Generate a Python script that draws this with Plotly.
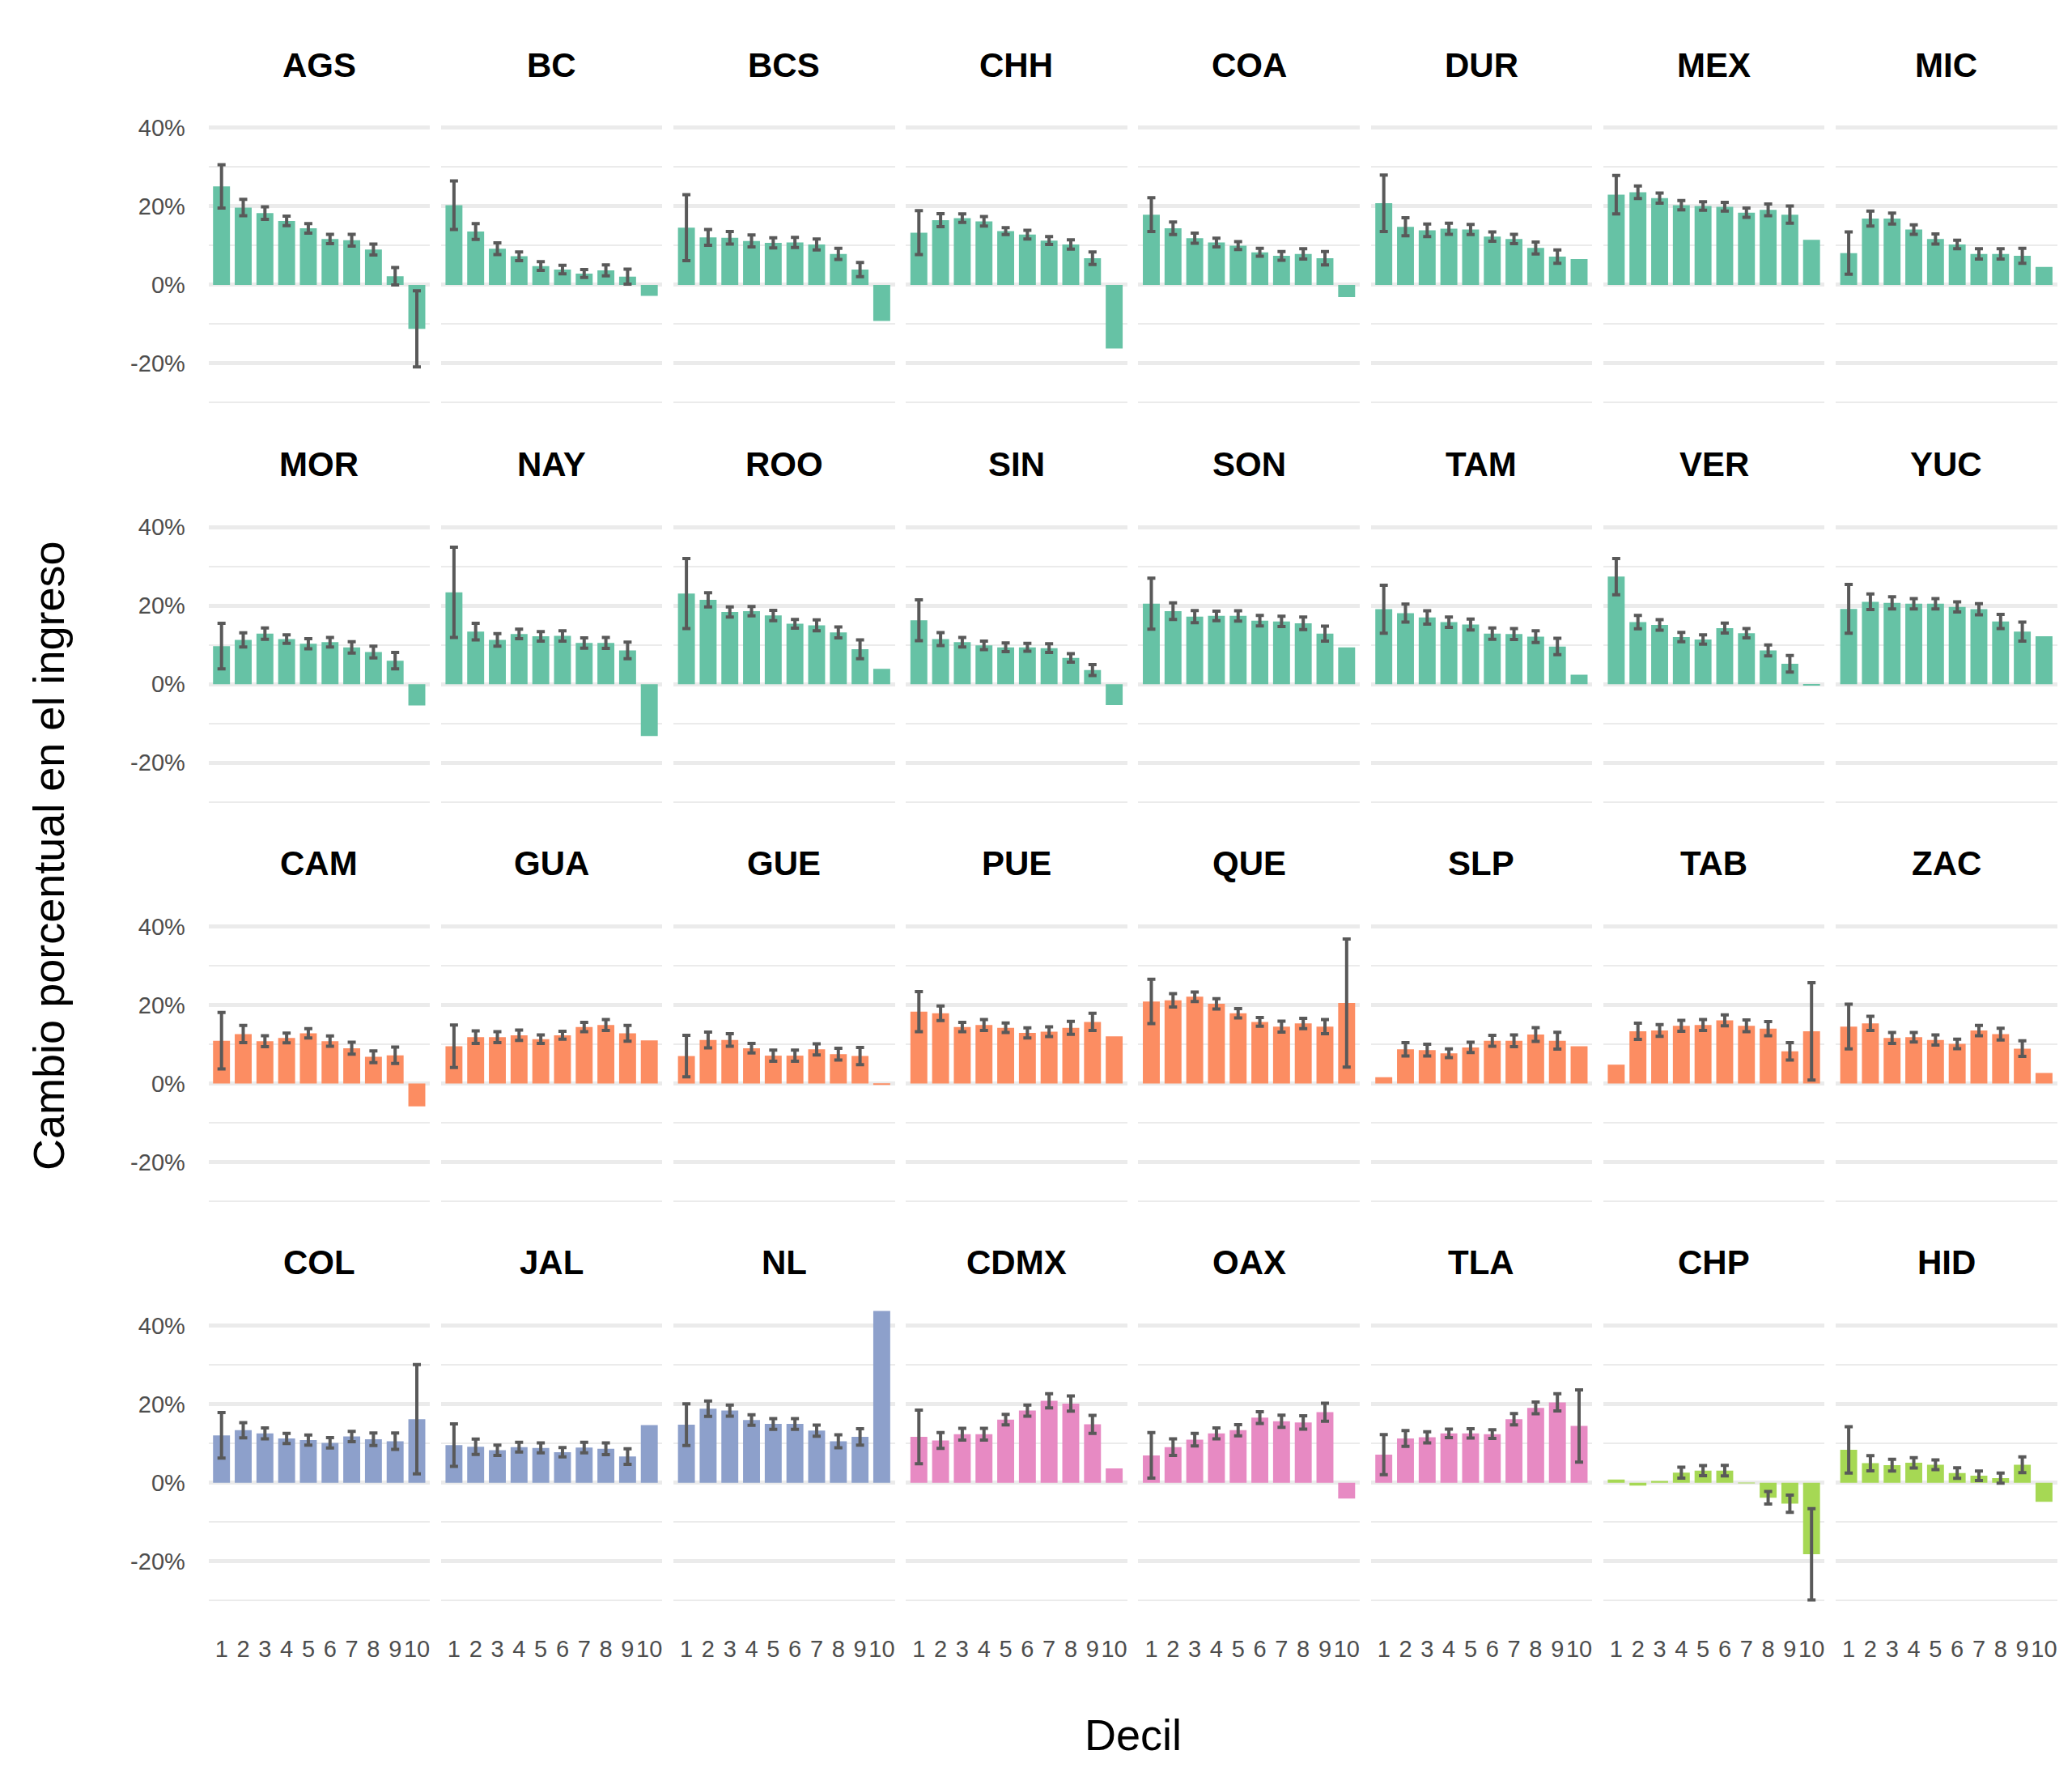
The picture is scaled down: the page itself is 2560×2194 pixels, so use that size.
import plotly.graph_objects as go

# ---------------- data ----------------
deciles = [1, 2, 3, 4, 5, 6, 7, 8, 9, 10]
decile_labels = ["1", "2", "3", "4", "5", "6", "7", "8", "9", "10"]

y_tickvals = [-20, 0, 20, 40]
y_ticktext = ["-20%", "0%", "20%", "40%"]
y_minor = [-30, -10, 10, 30]

ags = [25.1, 19.7, 18.3, 16.3, 14.4, 11.7, 11.4, 9.0, 2.2, -11.2]
ags_err = [5.5, 2.1, 1.6, 1.2, 1.2, 1.2, 1.5, 1.4, 2.2, 9.7]
bc = [20.3, 13.6, 9.2, 7.3, 4.8, 3.9, 2.9, 3.7, 2.1, -2.8]
bc_err = [6.2, 2.0, 1.5, 1.1, 1.1, 1.1, 1.0, 1.4, 1.9, None]
bcs = [14.6, 12.1, 12.0, 11.2, 10.7, 10.8, 10.3, 7.9, 3.9, -9.2]
bcs_err = [8.4, 2.0, 1.6, 1.5, 1.3, 1.3, 1.4, 1.4, 1.8, None]
chh = [13.3, 16.5, 17.0, 16.2, 13.7, 12.8, 11.3, 10.3, 6.8, -16.2]
chh_err = [5.6, 1.65, 1.1, 1.2, 0.9, 1.1, 1.0, 1.2, 1.6, None]
coa = [17.9, 14.4, 11.9, 10.8, 10.0, 8.3, 7.4, 7.9, 6.8, -3.1]
coa_err = [4.3, 1.6, 1.3, 1.1, 1.0, 1.0, 1.1, 1.3, 1.7, None]
dur = [20.8, 14.8, 13.9, 14.3, 14.1, 12.3, 11.7, 9.4, 7.2, 6.6]
dur_err = [7.2, 2.3, 1.6, 1.4, 1.3, 1.2, 1.2, 1.5, 1.7, None]
mex = [23.0, 23.6, 22.1, 20.3, 20.1, 19.9, 18.4, 19.1, 17.9, 11.5]
mex_err = [4.9, 1.6, 1.3, 1.2, 1.1, 1.1, 1.2, 1.5, 2.2, None]
mic = [8.1, 16.9, 16.9, 14.1, 11.7, 10.3, 7.9, 7.9, 7.4, 4.6]
mic_err = [5.4, 1.9, 1.4, 1.2, 1.3, 1.1, 1.3, 1.3, 1.9, None]

mor = [9.7, 11.3, 12.9, 11.5, 10.3, 10.7, 9.4, 8.2, 6.0, -5.4]
mor_err = [5.8, 1.8, 1.45, 1.1, 1.3, 1.2, 1.45, 1.5, 2.1, None]
nay = [23.4, 13.4, 11.3, 12.8, 12.2, 12.3, 10.5, 10.5, 8.6, -13.2]
nay_err = [11.5, 2.1, 1.6, 1.2, 1.2, 1.3, 1.3, 1.4, 2.1, None]
roo = [23.1, 21.5, 18.4, 18.6, 17.5, 15.4, 15.0, 13.2, 8.9, 3.9]
roo_err = [8.9, 1.8, 1.3, 1.2, 1.3, 1.1, 1.4, 1.4, 2.4, None]
sin = [16.3, 11.5, 10.7, 9.9, 9.4, 9.4, 9.2, 6.7, 3.6, -5.3]
sin_err = [5.2, 1.65, 1.2, 1.1, 1.1, 1.0, 1.1, 1.1, 1.4, None]
son = [20.5, 18.6, 17.2, 17.4, 17.4, 16.2, 16.0, 15.5, 12.9, 9.4]
son_err = [6.5, 2.1, 1.55, 1.2, 1.3, 1.35, 1.3, 1.6, 1.9, None]
tam = [19.1, 18.1, 17.0, 15.8, 15.2, 12.9, 12.8, 12.1, 9.6, 2.4]
tam_err = [6.1, 2.3, 1.7, 1.3, 1.4, 1.45, 1.4, 1.5, 2.1, None]
ver = [27.4, 15.8, 15.1, 12.0, 11.4, 14.3, 13.0, 8.6, 5.2, -0.2]
ver_err = [4.6, 1.7, 1.35, 1.2, 1.2, 1.25, 1.2, 1.4, 2.1, None]
yuc = [19.2, 21.0, 20.7, 20.5, 20.5, 19.7, 19.1, 16.0, 13.4, 12.2]
yuc_err = [6.2, 2.0, 1.55, 1.3, 1.3, 1.3, 1.4, 1.8, 2.4, None]

cam = [10.9, 12.6, 10.8, 11.6, 12.8, 10.8, 9.0, 6.8, 7.2, -5.8]
cam_err = [7.2, 2.2, 1.4, 1.25, 1.2, 1.3, 1.5, 1.5, 2.1, None]
gua = [9.5, 11.8, 11.8, 12.3, 11.3, 12.3, 14.4, 14.9, 12.8, 11.0]
gua_err = [5.4, 1.6, 1.4, 1.3, 1.1, 1.0, 1.2, 1.4, 2.0, None]
gue = [7.0, 11.1, 11.1, 9.0, 7.1, 7.1, 8.7, 7.5, 7.0, -0.3]
gue_err = [5.3, 2.0, 1.6, 1.2, 1.4, 1.4, 1.4, 1.5, 2.2, None]
pue = [18.3, 17.9, 14.4, 14.9, 14.2, 12.9, 13.2, 14.2, 15.7, 12.0]
pue_err = [5.1, 1.85, 1.2, 1.4, 1.2, 1.3, 1.25, 1.65, 2.2, None]
que = [20.9, 21.2, 22.1, 20.3, 17.9, 15.7, 14.5, 15.3, 14.5, 20.5]
que_err = [5.65, 1.7, 1.2, 1.3, 1.2, 1.1, 1.4, 1.3, 1.8, 16.3]
slp = [1.6, 8.7, 8.5, 7.7, 9.2, 10.9, 10.9, 12.5, 10.9, 9.5]
slp_err = [None, 1.7, 1.5, 1.1, 1.3, 1.4, 1.5, 1.75, 2.15, None]
tab = [4.8, 13.3, 13.5, 14.7, 14.9, 16.1, 14.7, 14.0, 8.2, 13.3]
tab_err = [None, 2.05, 1.5, 1.4, 1.4, 1.4, 1.5, 1.8, 2.2, 12.4]
zac = [14.5, 15.3, 11.6, 11.8, 11.1, 10.1, 13.5, 12.6, 8.9, 2.7]
zac_err = [5.7, 1.8, 1.4, 1.2, 1.3, 1.2, 1.3, 1.5, 2.0, None]

col = [12.1, 13.4, 12.6, 11.3, 10.9, 10.2, 11.8, 11.1, 10.6, 16.2]
col_err = [5.8, 1.95, 1.4, 1.3, 1.3, 1.3, 1.3, 1.6, 2.1, 13.9]
jal = [9.6, 9.2, 8.3, 9.1, 8.9, 7.8, 9.0, 8.7, 6.7, 14.7]
jal_err = [5.4, 1.95, 1.3, 1.25, 1.25, 1.2, 1.35, 1.5, 2.0, None]
nl = [14.8, 18.9, 18.4, 16.0, 15.0, 15.0, 13.3, 10.6, 11.7, 43.8]
nl_err = [5.3, 1.95, 1.4, 1.35, 1.35, 1.35, 1.4, 1.65, 2.1, None]
cdmx = [11.7, 10.8, 12.4, 12.4, 16.1, 18.4, 20.9, 20.2, 14.9, 3.7]
cdmx_err = [6.85, 2.0, 1.5, 1.5, 1.35, 1.4, 1.8, 1.95, 2.3, None]
oax = [7.0, 9.1, 11.0, 12.6, 13.4, 16.6, 15.7, 15.4, 18.0, -4.0]
oax_err = [5.8, 2.1, 1.6, 1.4, 1.4, 1.5, 1.55, 1.7, 2.3, None]
tla = [7.2, 11.3, 11.6, 12.6, 12.6, 12.4, 16.2, 19.1, 20.5, 14.5]
tla_err = [5.1, 2.0, 1.4, 1.1, 1.2, 1.1, 1.45, 1.5, 2.2, 9.2]
chp = [0.85, -0.7, 0.5, 2.6, 3.1, 3.1, -0.1, -3.8, -5.3, -18.2]
chp_err = [None, None, None, 1.4, 1.3, 1.35, None, 1.6, 2.2, 11.6]
hid = [8.4, 5.0, 4.5, 5.1, 4.6, 2.5, 1.8, 1.2, 4.6, -4.8]
hid_err = [5.9, 1.95, 1.5, 1.3, 1.25, 1.35, 1.2, 1.3, 2.0, None]

# group colours (Set2)
GREEN = "#66C2A5"
ORANGE = "#FC8D62"
BLUE = "#8DA0CB"
PINK = "#E78AC3"
LIME = "#A6D854"

panels = [
    ("AGS", ags, ags_err, GREEN), ("BC", bc, bc_err, GREEN),
    ("BCS", bcs, bcs_err, GREEN), ("CHH", chh, chh_err, GREEN),
    ("COA", coa, coa_err, GREEN), ("DUR", dur, dur_err, GREEN),
    ("MEX", mex, mex_err, GREEN), ("MIC", mic, mic_err, GREEN),
    ("MOR", mor, mor_err, GREEN), ("NAY", nay, nay_err, GREEN),
    ("ROO", roo, roo_err, GREEN), ("SIN", sin, sin_err, GREEN),
    ("SON", son, son_err, GREEN), ("TAM", tam, tam_err, GREEN),
    ("VER", ver, ver_err, GREEN), ("YUC", yuc, yuc_err, GREEN),
    ("CAM", cam, cam_err, ORANGE), ("GUA", gua, gua_err, ORANGE),
    ("GUE", gue, gue_err, ORANGE), ("PUE", pue, pue_err, ORANGE),
    ("QUE", que, que_err, ORANGE), ("SLP", slp, slp_err, ORANGE),
    ("TAB", tab, tab_err, ORANGE), ("ZAC", zac, zac_err, ORANGE),
    ("COL", col, col_err, BLUE), ("JAL", jal, jal_err, BLUE),
    ("NL", nl, nl_err, BLUE), ("CDMX", cdmx, cdmx_err, PINK),
    ("OAX", oax, oax_err, PINK), ("TLA", tla, tla_err, PINK),
    ("CHP", chp, chp_err, LIME), ("HID", hid, hid_err, LIME),
]

# ---------------- layout geometry (pixels) ----------------
W, H = 2560, 2194
NCOL = 8
PANEL_L0 = 249.6
PANEL_STEP = 287.2
PANEL_W = 273.5
ROW_TOP0 = 112.6
ROW_STEP = 493.3
PANEL_H = 394.8
STRIP_OFFSET = 40.6
Y_RANGE = [-33.7, 47.7]
X_RANGE = [0.4, 10.6]

FONT = "Liberation Sans, Arial, sans-serif"
TICK_COLOR = "#4D4D4D"
GRID = "#EBEBEB"
ERR_COLOR = "#595959"

fig = go.Figure()
annotations = []
nrows = (len(panels) + NCOL - 1) // NCOL

for i, (name, vals, errs, color) in enumerate(panels):
    r, c = divmod(i, NCOL)
    sfx = "" if i == 0 else str(i + 1)
    left = PANEL_L0 + c * PANEL_STEP
    top = ROW_TOP0 + r * ROW_STEP
    xd = [left / W, (left + PANEL_W) / W]
    yd = [1 - (top + PANEL_H) / H, 1 - top / H]

    fig.add_trace(go.Bar(
        x=deciles, y=vals, width=0.78,
        marker=dict(color=color, line=dict(width=0)),
        xaxis="x" + sfx, yaxis="y" + sfx, showlegend=False,
        hovertemplate=name + " decil %{x}: %{y:.1f}%<extra></extra>",
    ))

    # error bars only where an interval exists
    ex = [d for d, e in zip(deciles, errs) if e is not None]
    ey = [v for v, e in zip(vals, errs) if e is not None]
    ee = [e for e in errs if e is not None]
    fig.add_trace(go.Scatter(
        x=ex, y=ey, mode="markers",
        marker=dict(size=1, opacity=0),
        error_y=dict(type="data", array=ee, visible=True,
                     color=ERR_COLOR, thickness=4, width=5),
        xaxis="x" + sfx, yaxis="y" + sfx, showlegend=False,
        hoverinfo="skip",
    ))

    fig.layout["xaxis" + sfx] = dict(
        domain=xd, range=X_RANGE, anchor="y" + sfx,
        tickvals=deciles, ticktext=decile_labels,
        showticklabels=(r == nrows - 1),
        ticks="outside", ticklen=16, tickcolor="rgba(0,0,0,0)",
        tickfont=dict(family=FONT, size=29, color=TICK_COLOR),
        showgrid=False, zeroline=False, showline=False, fixedrange=True,
    )
    fig.layout["yaxis" + sfx] = dict(
        domain=yd, range=Y_RANGE, anchor="x" + sfx,
        tickvals=y_tickvals, ticktext=y_ticktext,
        showticklabels=(c == 0),
        ticks="outside", ticklen=22, tickcolor="rgba(0,0,0,0)",
        tickfont=dict(family=FONT, size=29, color=TICK_COLOR),
        showgrid=True, gridcolor=GRID, gridwidth=4.5,
        minor=dict(tickvals=y_minor, showgrid=True, gridcolor=GRID,
                   gridwidth=2.2, ticks=""),
        zeroline=False, showline=False, fixedrange=True,
    )

    annotations.append(dict(
        text="<b>" + name + "</b>", xref="paper", yref="paper",
        x=(left + PANEL_W / 2) / W, y=1 - (top - STRIP_OFFSET) / H,
        xanchor="center", yanchor="middle", showarrow=False,
        font=dict(family=FONT, size=42, color="#000000"),
    ))

annotations.append(dict(
    text="Decil", xref="paper", yref="paper",
    x=(PANEL_L0 + (NCOL - 1) * PANEL_STEP + PANEL_W + PANEL_L0) / 2 / W,
    y=1 - 2135 / H, xanchor="center", yanchor="middle", showarrow=False,
    font=dict(family=FONT, size=54, color="#000000"),
))
annotations.append(dict(
    text="Cambio porcentual en el ingreso", xref="paper", yref="paper",
    x=52 / W, y=1 - (ROW_TOP0 + (nrows - 1) * ROW_STEP + PANEL_H + ROW_TOP0) / 2 / H,
    xanchor="center", yanchor="middle", textangle=-90, showarrow=False,
    font=dict(family=FONT, size=54, color="#000000"),
))

fig.update_layout(
    width=W, height=H,
    margin=dict(l=0, r=0, t=0, b=0),
    paper_bgcolor="white", plot_bgcolor="white",
    annotations=annotations,
    font=dict(family=FONT),
    bargap=0.22,
)

fig.write_html("out.html")
